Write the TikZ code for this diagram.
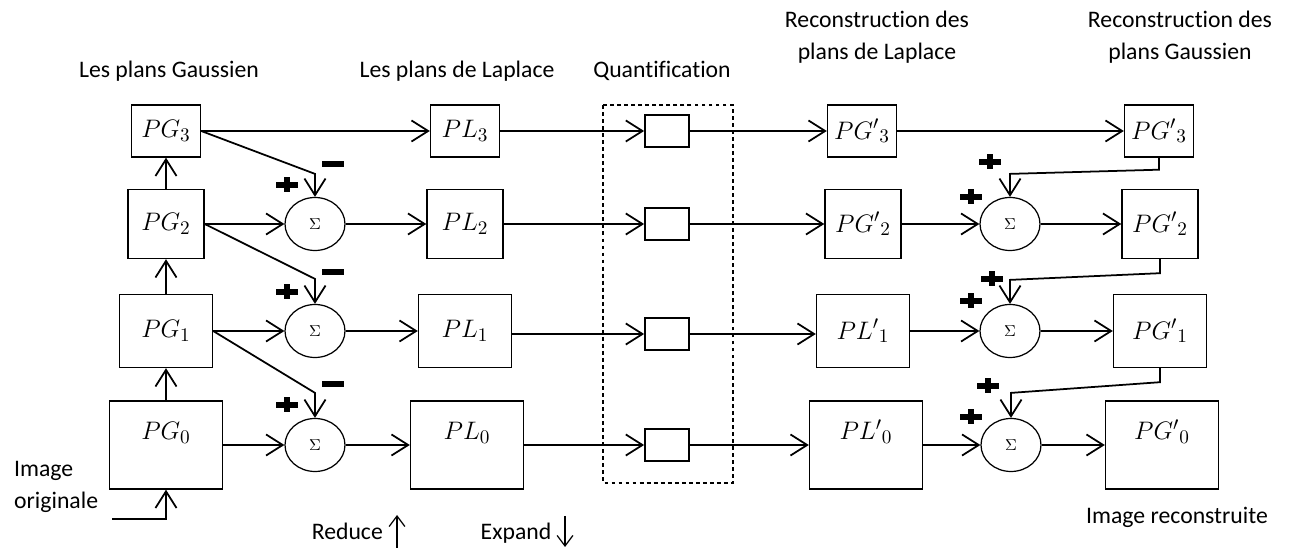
\documentclass[tikz,border=0pt]{standalone}
\usepackage{fontspec}
\setmainfont{Carlito}[Ligatures=NoCommon]
\usetikzlibrary{arrows.meta,calc,shapes.geometric}
\begin{document}
\begin{tikzpicture}[x=0.02cm,y=-0.02cm,
  >={Straight Barb[length=9.5pt,width=12pt]},
  bloc/.style={draw,line width=0.8pt,inner sep=0pt,font=\fontsize{15}{18}\selectfont},
  t3/.style={minimum width=1.38cm,minimum height=1.04cm},
  t2/.style={minimum width=1.52cm,minimum height=1.38cm},
  t1/.style={minimum width=1.86cm,minimum height=1.46cm},
  t0/.style={minimum width=2.26cm,minimum height=1.76cm,text height=0.4cm,text depth=0.6cm},
  somme/.style={draw,ellipse,line width=0.7pt,minimum width=1.2cm,minimum height=1.06cm,inner sep=0pt,font=\small},
  quant/.style={draw,line width=1pt,minimum width=0.88cm,minimum height=0.64cm},
  fleche/.style={->,line width=1pt},
  petite/.style={line width=0.7pt,-{Straight Barb[length=6pt,width=9pt]}},
  titre/.style={font=\fontsize{13.5}{18}\selectfont,align=center},
  plussign/.pic={\draw[line width=3.2pt] (-11,0) -- (11,0) (0,-7.5) -- (0,7.5);},
  minussign/.pic={\draw[line width=3.2pt] (-11,0) -- (11,0);}]
\useasboundingbox (0,0) rectangle (1289,550);
\node[titre] (tgauss) at (169,71) {Les plans Gaussien};
\node[titre] (tlapl) at (457,71) {Les plans de Laplace};
\node[titre] (tquant) at (662,71) {Quantification};
\node[titre] (trecl) at (877,37) {Reconstruction des\\plans de Laplace};
\node[titre] (trecg) at (1180,37) {Reconstruction des\\plans Gaussien};
\node[titre,align=left,anchor=west] (torig) at (8,487) {Image\\originale};
\node[titre] (trec) at (1177,517) {Image reconstruite};
\node[titre,anchor=base east] (reduce) at (389,540) {Reduce};
\node[titre,anchor=base] (expand) at (516,540) {Expand};
\node[bloc,t3] (pg3) at (166,131) {$PG_3$};
\node[bloc,t2] (pg2) at (166,224) {$PG_2$};
\node[bloc,t1] (pg1) at (166,331) {$PG_1$};
\node[bloc,t0] (pg0) at (166,445) {$PG_0$};
\node[somme] (s2) at (315,224) {$\Sigma$};
\node[somme] (s1) at (315,331) {$\Sigma$};
\node[somme] (s0) at (315,445) {$\Sigma$};
\node[bloc,t3] (pl3) at (465,131) {$PL_3$};
\node[bloc,t2] (pl2) at (465,224) {$PL_2$};
\node[bloc,t1] (pl1) at (465,331) {$PL_1$};
\node[bloc,t0] (pl0) at (467,445) {$PL_0$};
\draw[dash pattern=on 2.2pt off 1.8pt,line width=0.6pt] (603,105) rectangle (733,483);
\node[quant] (q3) at (667,131) {};
\node[quant] (q2) at (667,224) {};
\node[quant] (q1) at (667,334) {};
\node[quant] (q0) at (667,445) {};
\node[bloc,t3] (rl3) at (862,131) {${PG'}_3$};
\node[bloc,t2] (rl2) at (863,224) {${PG'}_2$};
\node[bloc,t1] (rl1) at (863,331) {${PL'}_1$};
\node[bloc,t0] (rl0) at (866,445) {${PL'}_0$};
\node[somme] (sr2) at (1010,224) {$\Sigma$};
\node[somme] (sr1) at (1010,331) {$\Sigma$};
\node[somme] (sr0) at (1011,445) {$\Sigma$};
\node[bloc,t3] (gg3) at (1159,131) {${PG'}_3$};
\node[bloc,t2] (gg2) at (1160,224) {${PG'}_2$};
\node[bloc,t1] (gg1) at (1160,331) {${PG'}_1$};
\node[bloc,t0] (gg0) at (1162,445) {${PG'}_0$};
\coordinate (entree) at (112,519);
\draw[fleche] (entree) -| (pg0.south);
\draw[fleche] (pg0) -- (pg1);
\draw[fleche] (pg1) -- (pg2);
\draw[fleche] (pg2) -- (pg3);
\draw[fleche] (pg3) -- (pl3);
\draw[fleche] (pg2) -- (s2);
\draw[fleche] (pg1) -- (s1);
\draw[fleche] (pg0) -- (s0);
\draw[fleche] (pg3.east) -- ($(s2.north)+(0,-23)$) -- (s2.north);
\draw[fleche] (pg2.east) -- ($(s1.north)+(0,-25)$) -- (s1.north);
\draw[fleche] (pg1.east) -- ($(s0.north)+(0,-25)$) -- (s0.north);
\draw[fleche] (s2) -- (pl2);
\draw[fleche] (s1) -- (pl1);
\draw[fleche] (s0) -- (pl0);
\draw[fleche] (pl3) -- (q3);
\draw[fleche] (pl2) -- (q2);
\draw[fleche] (pl1.east |- q1) -- (q1);
\draw[fleche] (pl0) -- (q0);
\draw[fleche] (q3) -- (rl3);
\draw[fleche] (q2) -- (rl2);
\draw[fleche] (q1) -- (rl1.west |- q1);
\draw[fleche] (q0) -- (rl0);
\draw[fleche] (rl3) -- (gg3);
\draw[fleche] (rl2) -- (sr2);
\draw[fleche] (rl1) -- (sr1);
\draw[fleche] (rl0) -- (sr0);
\draw[fleche] (sr2) -- (gg2);
\draw[fleche] (sr1) -- (gg1);
\draw[fleche] (sr0) -- (gg0);
\draw[fleche] (gg3.south) -- ++(0,12) -- ($(sr2.north)+(0,-23)$) -- (sr2.north);
\draw[fleche] (gg2.south) -- ++(0,14) -- ($(sr1.north)+(0,-24)$) -- (sr1.north);
\draw[fleche] (gg1.south) -- ++(0,14) -- ($(sr0.north)+(0,-25)$) -- (sr0.north);
\pic at ($(s2)+(-28,-39)$) {plussign};
\pic at ($(s1)+(-28,-39)$) {plussign};
\pic at ($(s0)+(-28,-40)$) {plussign};
\pic at ($(s2)+(18,-60)$) {minussign};
\pic at ($(s1)+(18,-59)$) {minussign};
\pic at ($(s0)+(18,-61)$) {minussign};
\pic at ($(sr2)+(-20,-62)$) {plussign};
\pic at ($(sr1)+(-18,-52)$) {plussign};
\pic at ($(sr0)+(-23,-59)$) {plussign};
\pic at ($(sr2)+(-39,-27)$) {plussign};
\pic at ($(sr1)+(-39,-30)$) {plussign};
\pic at ($(sr0)+(-40,-28)$) {plussign};
\coordinate (redbas) at (397,548);
\coordinate (redhaut) at (397,515);
\draw[petite] (redbas) -- (redhaut);
\coordinate (exphaut) at (565,516);
\coordinate (expbas) at (565,547);
\draw[petite] (exphaut) -- (expbas);
\end{tikzpicture}
\end{document}
